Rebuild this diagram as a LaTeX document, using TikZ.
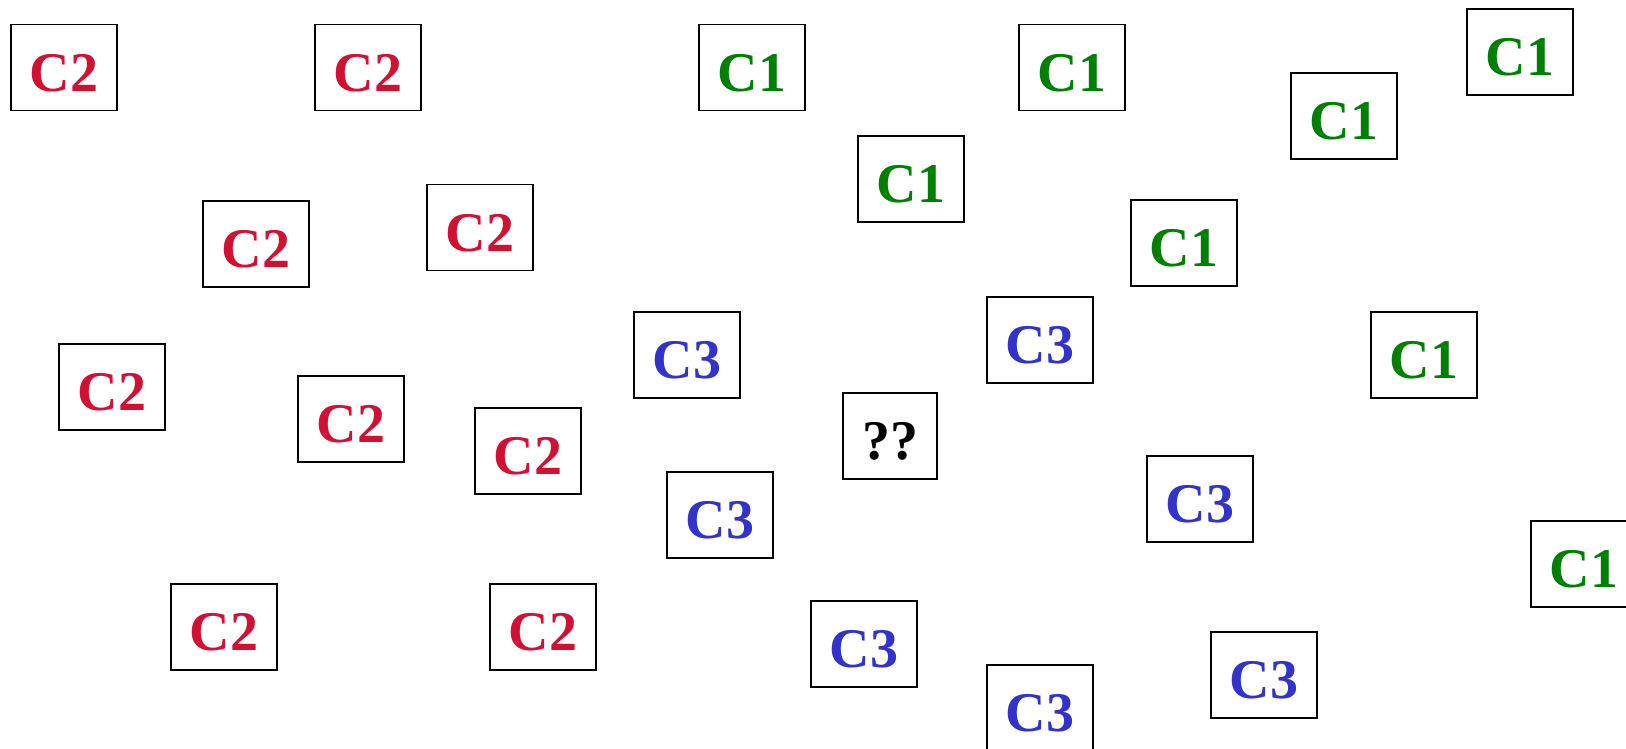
\documentclass[tikz,border=0pt]{standalone}
\usepackage{fontspec}
\setmainfont{Liberation Serif}
\definecolor{ctwo}{RGB}{210,16,52}
\definecolor{cone}{RGB}{0,128,0}
\definecolor{cthree}{RGB}{51,51,204}
\begin{document}
\begin{tikzpicture}[x=1pt,y=-1pt,
  card/.style={draw=black, line width=1.8pt, fill=white, inner sep=0pt,
    minimum width=106pt, minimum height=86pt,
    font=\fontsize{56}{60}\selectfont\bfseries, text height=47pt, text depth=0pt},
  classtwo/.style={card, text=ctwo},
  classone/.style={card, text=cone},
  classthree/.style={card, text=cthree},
  query/.style={card, minimum width=94pt, text=black}]
\useasboundingbox (0,0) rectangle (1626,748);
% class C2 samples
\node[classtwo] (a1) at (64,67.5) {C2};
\node[classtwo] (a2) at (368,67.5) {C2};
\node[classtwo] (a3) at (256,244) {C2};
\node[classtwo] (a4) at (480,227.5) {C2};
\node[classtwo] (a5) at (112,387) {C2};
\node[classtwo] (a6) at (351,419) {C2};
\node[classtwo] (a7) at (528,451) {C2};
\node[classtwo] (a8) at (224,627) {C2};
\node[classtwo] (a9) at (543,627) {C2};
% class C1 samples
\node[classone] (b1) at (752,67.5) {C1};
\node[classone] (b2) at (1072,67.5) {C1};
\node[classone] (b3) at (1520,52) {C1};
\node[classone] (b4) at (1344,116) {C1};
\node[classone] (b5) at (911,179) {C1};
\node[classone] (b6) at (1184,243) {C1};
\node[classone] (b7) at (1424,355) {C1};
\node[classone] (b8) at (1584,564) {C1};
% class C3 samples
\node[classthree] (c1) at (687,355) {C3};
\node[classthree] (c2) at (1040,340) {C3};
\node[classthree] (c3) at (720,515) {C3};
\node[classthree] (c4) at (1200,499) {C3};
\node[classthree] (c5) at (864,644) {C3};
\node[classthree] (c6) at (1264,675) {C3};
\node[classthree] (c7) at (1040,708) {C3};
% unknown sample
\node[query] (q) at (890,436) {??};
\end{tikzpicture}
\end{document}
